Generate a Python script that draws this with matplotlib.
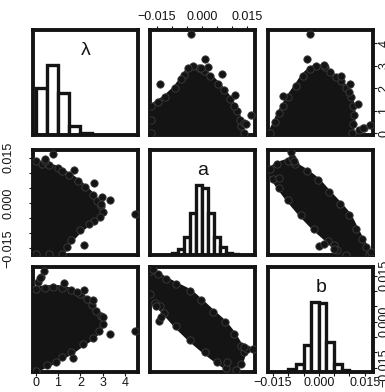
import numpy as np
import matplotlib
matplotlib.use("Agg")
from matplotlib import pyplot as plt

plt.rcParams['font.family'] = ['Liberation Sans', 'DejaVu Sans']

ink = "#141414"

names = ["λ", "a", "b"]
lims = [(-0.1, 4.58), (-0.0172, 0.0175), (-0.0165, 0.0178)]

lam_ticks = [0, 1, 2, 3, 4]
lam_labels = ["0", "1", "2", "3", "4"]
small_ticks = [-0.015, -0.010, -0.005, 0.0, 0.005, 0.010, 0.015]
small_labels = ["\u22120.015", "", "", "0.000", "", "", "0.015"]

# histograms (diagonal)
lam_breaks = [0.0, 0.5, 1.0, 1.5, 2.0, 2.5, 3.0, 3.5, 4.0, 4.5]
lam_counts = [134, 200, 121, 27, 6, 2, 1, 0, 1]
a_breaks = [-0.010, -0.008, -0.006, -0.004, -0.002, 0.0, 0.002, 0.004, 0.006, 0.008, 0.010, 0.012]
a_counts = [5, 13, 43, 99, 165, 157, 99, 43, 20, 5, 2]
b_breaks = [-0.0125, -0.010, -0.0075, -0.005, -0.0025, 0.0, 0.0025, 0.005, 0.0075, 0.010, 0.0125]
b_counts = [2, 10, 25, 80, 206, 204, 88, 25, 8, 2]

# dense part of each cloud (outer points, in order) and the stray points
lam_a_edge_lam = [0.00, 0.30, 0.60, 1.00, 1.20, 1.50, 1.90, 2.20, 2.55, 2.75, 2.92, 3.00, 2.88, 2.60, 2.40, 2.00, 1.60, 1.40, 1.20, 0.60, 0.00]
lam_a_edge_a = [0.0138, 0.0130, 0.0124, 0.0116, 0.0106, 0.0093, 0.0072, 0.0052, 0.0026, 0.0008, -0.0010, -0.0030, -0.0046, -0.0058, -0.0068, -0.0090, -0.0122, -0.0145, -0.0168, -0.0170, -0.0170]
lam_a_out_lam = [4.43, 3.32, 2.62, 1.70, 0.80, 0.44, 2.17, 2.96, 2.92, 0.40]
lam_a_out_a = [-0.0038, 0.0011, 0.0066, 0.0108, 0.0163, 0.0139, -0.0140, 0.0019, -0.0004, 0.0145]

lam_b_edge_lam = [0.00, 0.40, 0.80, 1.20, 1.60, 2.00, 2.30, 2.50, 2.70, 2.93, 3.00, 2.85, 2.55, 2.10, 1.60, 1.20, 0.90, 0.50, 0.00]
lam_b_edge_b = [0.0108, 0.0112, 0.0114, 0.0112, 0.0104, 0.0090, 0.0073, 0.0055, 0.0036, 0.0020, -0.0008, -0.0030, -0.0052, -0.0074, -0.0100, -0.0116, -0.0130, -0.0142, -0.0160]
lam_b_out_lam = [4.43, 3.31, 3.02, 2.18, 1.85, 1.28, 0.38, 0.24, 0.13, 1.66, 2.56, 0.22]
lam_b_out_b = [-0.0030, -0.0040, 0.0017, 0.0103, 0.0097, 0.0127, 0.0166, 0.0147, 0.0130, -0.0118, 0.0071, 0.0143]

ab_edge_a = [-0.0172, -0.0145, -0.0120, -0.0085, -0.0040, -0.0005, 0.0035, 0.0075, 0.0105, 0.0128, 0.0140, 0.0128, 0.0112, 0.0080, 0.0050, 0.0010, -0.0040, -0.0085, -0.0125, -0.0155, -0.0172]
ab_edge_b = [0.0165, 0.0155, 0.0140, 0.0122, 0.0100, 0.0070, 0.0033, -0.0002, -0.0040, -0.0078, -0.0100, -0.0138, -0.0158, -0.0150, -0.0130, -0.0100, -0.0058, -0.0015, 0.0030, 0.0060, 0.0090]
ab_out_a = [0.0150, 0.0168, 0.0140, -0.0143, -0.0135, -0.0140, -0.0162, 0.0084, -0.0151]
ab_out_b = [-0.0088, -0.0090, -0.0082, 0.0002, 0.0017, 0.0050, 0.0172, -0.0131, 0.0051]

hists = [(lam_breaks, lam_counts), (a_breaks, a_counts), (b_breaks, b_counts)]
clouds = {
    (0, 1): (lam_a_edge_lam, lam_a_edge_a, lam_a_out_lam, lam_a_out_a),
    (0, 2): (lam_b_edge_lam, lam_b_edge_b, lam_b_out_lam, lam_b_out_b),
    (1, 2): (ab_edge_a, ab_edge_b, ab_out_a, ab_out_b),
}

W, H = 385, 392
fig = plt.figure(figsize=(W / 100, H / 100), dpi=100)

col_left = [33.3, 150.0, 268.3]
row_top = [30.3, 150.0, 267.3]
size = 105.0

axes = [[None] * 3 for _ in range(3)]
for i in range(3):
    for j in range(3):
        ax = fig.add_axes([col_left[j] / W, 1 - (row_top[i] + size) / H, size / W, size / H])
        axes[i][j] = ax
        for s in ax.spines.values():
            s.set_linewidth(2.8)
            s.set_color(ink)
        ax.set_xticks([])
        ax.set_yticks([])
        ax.set_xlim(lims[j])
        if i == j:
            br, ct = hists[i]
            br = np.array(br)
            ct = np.array(ct, dtype=float)
            ax.bar(br[:-1], ct / ct.max(), width=np.diff(br), align='edge',
                   color='white', edgecolor=ink, linewidth=2.4)
            ax.set_ylim(0, 1.5)
            ax.text(0.5, 0.765, names[i], transform=ax.transAxes, ha='center',
                    va='baseline', fontsize=14, color=ink)
        else:
            ax.set_ylim(lims[i])
            key = (min(i, j), max(i, j))
            ex, ey, ox, oy = clouds[key]
            # first array belongs to the lower index variable
            if j == key[0]:
                px, py, qx, qy = ex, ey, ox, oy
            else:
                px, py, qx, qy = ey, ex, oy, ox
            ax.fill(px, py, color=ink, linewidth=3, edgecolor=ink, joinstyle='round')
            ax.scatter(list(px) + list(qx), list(py) + list(qy), s=28, c=ink,
                       edgecolors='#3c3c3c', linewidths=0.6, zorder=3)

tick_kw = dict(direction='out', length=2.6, width=0.8, colors=ink, labelsize=9)

ax = axes[0][1]
ax.xaxis.set_ticks_position('top')
ax.set_xticks(small_ticks)
ax.set_xticklabels(small_labels)
ax.tick_params(axis='x', pad=2.5, **tick_kw)

ax = axes[1][0]
ax.set_yticks(small_ticks)
ax.set_yticklabels(small_labels, rotation=90, va='center')
ax.tick_params(axis='y', pad=11, **tick_kw)

ax = axes[2][0]
ax.set_xticks(lam_ticks)
ax.set_xticklabels(lam_labels)
ax.tick_params(axis='x', pad=0.5, **tick_kw)

ax = axes[2][2]
ax.set_xticks(small_ticks)
ax.set_xticklabels(small_labels)
ax.tick_params(axis='x', pad=0.5, **tick_kw)

ax = axes[0][2]
ax.yaxis.set_ticks_position('right')
ax.set_yticks(lam_ticks)
ax.set_yticklabels(lam_labels, rotation=90, va='center')
ax.tick_params(axis='y', pad=1, **tick_kw)

# b scale on the right of the last histogram
rx = axes[2][2].twinx()
for s in rx.spines.values():
    s.set_visible(False)
rx.set_ylim(lims[2])
rx.set_yticks(small_ticks)
rx.set_yticklabels(small_labels, rotation=90, va='center')
rx.tick_params(axis='y', pad=1, **tick_kw)

fig.savefig("out.png", dpi=100)
